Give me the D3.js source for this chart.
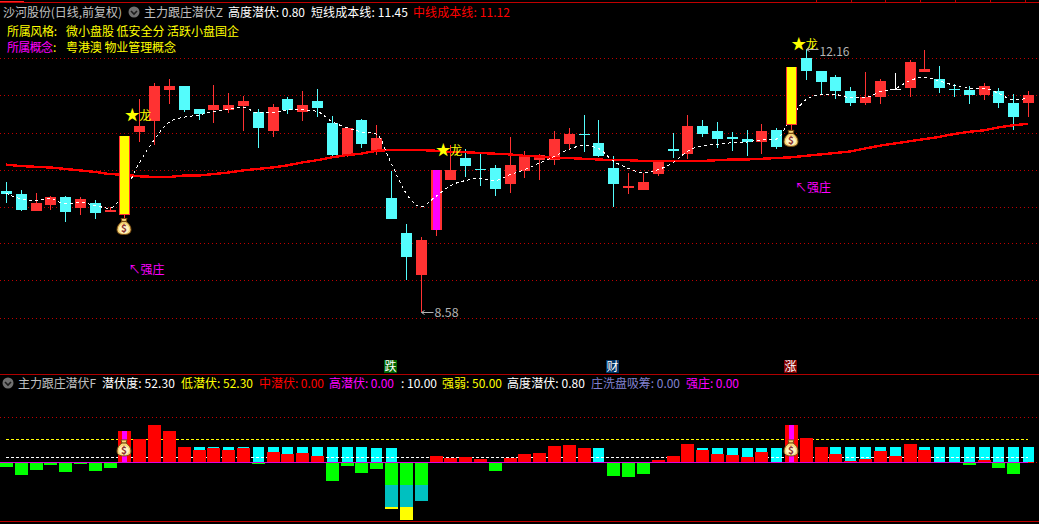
<!DOCTYPE html>
<html><head><meta charset="utf-8">
<script src="https://cdn.jsdelivr.net/npm/d3@7/dist/d3.min.js"></script>
<style>html,body{margin:0;padding:0;background:#000;overflow:hidden}svg{display:block}text{font-family:"Noto Sans CJK SC","Noto Sans",sans-serif;font-size:12px}</style>
</head><body><svg id="c" width="1039" height="524"></svg>
<script>
const opens=[10.24,10.20,9.96,10.04,10.15,10.00,10.07,9.95,9.91,11.05,11.20,11.62,11.68,11.36,11.35,11.35,11.40,11.32,11.06,11.50,11.32,11.47,11.17,10.73,11.21,10.79,10.14,9.66,9.08,9.70,10.39,10.69,10.54,10.55,10.33,10.51,10.66,10.66,10.88,11.02,10.90,10.55,10.28,10.25,10.47,10.81,10.75,11.13,11.06,10.98,10.95,10.91,11.07,11.14,12.06,11.89,11.80,11.61,11.45,11.53,11.64,11.65,11.87,11.78,11.64,11.62,11.56,11.61,11.45,11.45];
const highs=[10.36,10.25,10.21,10.17,10.17,10.15,10.11,10.02,10.99,11.50,11.72,11.78,11.68,11.36,11.69,11.58,11.54,11.36,11.43,11.53,11.61,11.64,11.27,11.10,11.23,11.14,10.51,9.78,9.61,10.53,10.87,10.81,10.75,10.59,10.98,10.79,10.75,11.06,11.10,11.28,11.21,10.72,10.48,10.48,10.66,11.03,11.28,11.21,11.18,11.05,11.07,11.16,11.10,11.94,12.19,11.89,11.83,11.67,11.87,11.78,11.86,12.04,12.18,11.95,11.71,11.68,11.72,11.65,11.57,11.61];
const lows=[10.07,9.96,9.96,9.98,9.81,9.91,9.85,9.95,9.87,10.91,10.87,11.43,11.32,11.21,11.17,11.31,11.06,10.83,10.98,11.29,11.20,11.25,10.70,10.70,10.83,10.73,9.85,9.01,8.58,9.62,10.39,10.43,10.31,10.17,10.21,10.42,10.39,10.59,10.81,10.77,10.70,10.02,10.20,10.25,10.44,10.69,10.68,10.98,10.83,10.79,10.72,10.75,10.81,11.07,11.76,11.57,11.50,11.40,11.42,11.43,11.62,11.53,11.87,11.58,11.53,11.43,11.49,11.38,11.07,11.25];
const closes=[10.20,9.98,10.07,10.15,9.95,10.13,9.93,9.98,10.99,11.13,11.68,11.68,11.35,11.29,11.42,11.42,11.47,11.10,11.39,11.35,11.42,11.38,10.73,11.10,10.88,10.96,9.85,9.33,9.56,10.53,10.53,10.58,10.53,10.26,10.59,10.70,10.73,10.95,11.02,11.01,10.72,10.33,10.31,10.36,10.64,10.79,11.13,11.02,10.95,10.95,10.91,11.06,10.84,11.94,11.89,11.73,11.61,11.45,11.53,11.75,11.64,12.01,11.91,11.65,11.62,11.56,11.68,11.45,11.26,11.56];
const midCost=[10.60,10.58,10.57,10.56,10.54,10.52,10.50,10.47,10.46,10.44,10.43,10.43,10.45,10.45,10.47,10.49,10.52,10.54,10.56,10.59,10.63,10.66,10.70,10.73,10.75,10.79,10.80,10.80,10.80,10.79,10.77,10.77,10.76,10.75,10.74,10.72,10.71,10.69,10.69,10.68,10.67,10.66,10.66,10.65,10.65,10.65,10.65,10.65,10.66,10.67,10.67,10.68,10.69,10.70,10.72,10.74,10.76,10.78,10.82,10.86,10.89,10.92,10.95,10.98,11.02,11.05,11.07,11.11,11.14,11.16];
const shortCost=[10.21,10.13,10.11,10.13,10.06,10.08,10.04,10.00,10.23,10.62,10.94,11.18,11.25,11.28,11.33,11.36,11.39,11.31,11.31,11.35,11.35,11.33,11.19,11.11,11.05,11.02,10.62,10.21,10.02,10.16,10.31,10.38,10.41,10.38,10.46,10.53,10.62,10.71,10.81,10.86,10.82,10.65,10.55,10.49,10.53,10.62,10.78,10.86,10.88,10.90,10.91,10.94,10.95,11.24,11.49,11.56,11.56,11.52,11.52,11.60,11.64,11.75,11.80,11.75,11.69,11.65,11.65,11.58,11.49,11.51];
const gridPrices=[12.06,11.55,11.04,10.53,10.02,9.52,9.01,8.50];
const boldIdx=[8,53];
const mainForceIdx=[29];
const flatIdx=[60];
const dragonIdx=[9,30,54];
const dragonPrice=[11.28,10.80,12.26];
const strongIdx=[8,53];
const strongPrice=[9.15,10.28];
const bagPrice=[9.75,10.96];
const bagLevel=32;
const badgeIdx=[26,41,53];
const badgeText=["跌","财","涨"];
const badgeFill=["#006400","#003366","#800000"];
const lowLabel="8.58",highLabel="12.16";
const lowIdx=28,highIdx=54;
const cyanLevel=[0,0,0,0,0,0,0,0,0,0,0,0,0,34,34,34,34,34,34,34,34,34,34,34,34,31.4,31.4,0,0,0,0,0,0,0,0,0,0,0,0,0,31.4,0,0,0,0,0,0,31.4,31.4,31.4,31.4,31.4,31.4,0,0,0,34,34,34,34,34,0,34,34,34,34,34,34,34,34];
const redLevel=[0,0,0,0,0,0,0,0,69,51,82,69,34,27,31.4,27,31.4,0,22.7,18.3,20.5,14,0,0,0,0,0,0,0,14,9.5,11.7,7.3,0,9.5,18,20.5,36,38,31.4,0,0,0,0,5,14,40,27,18,16,11.7,22.7,0,82,53,34,18,3,7.3,25,14,40,27,0,0,0,5,0,0,0];
const greenLevel=[-9.5,-28,-17,-6,-21,-4,-19,-12,0,0,0,0,0,0,0,0,0,-4,0,0,0,0,-41,-8,-23,-15,-50,-50,-50,0,0,0,0,-19,0,0,0,0,0,0,0,-30,-32,-25.6,0,0,0,0,0,0,0,0,0,0,0,0,0,0,0,0,0,0,0,0,0,-6,0,-12.4,-25.6,0];
const tealBottom={26:-98,27:-98,28:-85};
const yellowBottom={26:-102,27:-126.5};
const lowerLines=[50,10];
const topText=[[3,119,"沙河股份(日线,前复权)","#c0c0c0"],[144,79,"主力跟庄潜伏Z","#c0c0c0"],[228,77,"高度潜伏: 0.80","#ffffff"],[311,97,"短线成本线: 11.45","#ffffff"],[413,97,"中线成本线: 11.12","#ff0000"],
 [7,50,"所属风格:","#ffff00"],[66,173,"微小盘股 低安全分 活跃小盘国企","#ffff00"],[7,46,"所属概念","#ff00ff"],[53,5,":","#ffff00"],[66,110,"粤港澳 物业管理概念","#ffff00"]];
const topRows=[12,12,12,12,12,31,31,47,47,47];
const lowText=[[18,78,"主力跟庄潜伏F","#c0c0c0"],[102,73,"潜伏度: 52.30","#ffffff"],[181,72,"低潜伏: 52.30","#ffff00"],[259,65,"中潜伏: 0.00","#ff0000"],[329,65,"高潜伏: 0.00","#ff00ff"],[401,36,": 10.00","#ffffff"],[442,60,"强弱: 50.00","#ffff00"],[507,78,"高度潜伏: 0.80","#ffffff"],[591,89,"庄洗盘吸筹: 0.00","#8080d0"],[686,53,"强庄: 0.00","#ff00ff"]];
const topTicks=[816,851,885,920,955,990,1025];

const svg=d3.select("#c");
svg.append("rect").attr("width",1039).attr("height",524).attr("fill","#000");
const x=d3.scaleLinear().domain([0,69]).range([6,1028]);
const y=d3.scaleLinear().domain([8.58,12.19]).range([311.7,48.8]);
const yl=d3.scaleLinear().domain([0,100]).range([462.5,417]);
const px=i=>Math.round(x(i));
const RED="#ff3232",CY="#54fcfc",idx=d3.range(70);
const crisp=s=>s.attr("shape-rendering","crispEdges");

// frame
const frame=[[2,"#c00000"],[374,"#b00000"],[521,"#c00000"]];
crisp(svg.selectAll(".f").data(frame).join("line").attr("x1",0).attr("x2",1039).attr("y1",d=>d[0]+.5).attr("y2",d=>d[0]+.5).attr("stroke",d=>d[1]));
crisp(svg.selectAll(".t").data(topTicks).join("line").attr("x1",d=>d+.5).attr("x2",d=>d+.5).attr("y1",0).attr("y2",3).attr("stroke","#c00000"));
crisp(svg.append("line").attr("x1",0).attr("x2",24).attr("y1",1.5).attr("y2",1.5).attr("stroke","#ff2020"));
// grid
crisp(svg.selectAll(".g").data(gridPrices).join("line").attr("x1",0).attr("x2",1039)
 .attr("y1",d=>Math.round(y(d))+.5).attr("y2",d=>Math.round(y(d))+.5).attr("stroke","#c00000").attr("stroke-dasharray","1 3"));
crisp(svg.selectAll(".gl").data([100,0]).join("line").attr("x1",0).attr("x2",1039)
 .attr("y1",d=>Math.floor(yl(d))+.5).attr("y2",d=>Math.floor(yl(d))+.5).attr("stroke","#c00000").attr("stroke-dasharray","1 3"));

// candles
const col=i=>flatIdx.includes(i)?"#ffffff":(boldIdx.includes(i)||mainForceIdx.includes(i)||closes[i]>opens[i])?RED:CY;
const gC=svg.append("g");
crisp(gC.selectAll("line").data(idx).join("line").attr("x1",i=>px(i)+.5).attr("x2",i=>px(i)+.5)
 .attr("y1",i=>y(highs[i])).attr("y2",i=>y(lows[i])).attr("stroke",col));
const normal=idx.filter(i=>!boldIdx.includes(i));
crisp(gC.selectAll("rect").data(normal).join("rect").attr("x",i=>px(i)-5).attr("width",11)
 .attr("y",i=>Math.round(y(Math.max(opens[i],closes[i]))))
 .attr("height",i=>Math.max(1,Math.round(y(Math.min(opens[i],closes[i])))-Math.round(y(Math.max(opens[i],closes[i])))))
 .attr("fill",col));
crisp(gC.selectAll(".m").data(mainForceIdx).join("rect").attr("x",i=>px(i)-3).attr("width",7)
 .attr("y",i=>Math.round(y(closes[i]))).attr("height",i=>Math.round(y(opens[i]))-Math.round(y(closes[i]))).attr("fill","#ff00ff"));

// cost lines
const ln=a=>d3.line().x((d,i)=>x(i)).y(d=>y(d))(a);
crisp(svg.append("path").attr("d",ln(midCost)).attr("fill","none").attr("stroke","#ff0000").attr("stroke-width",2.4));
crisp(svg.append("path").attr("d",d3.line().x((d,i)=>x(i)).y(d=>y(d)).curve(d3.curveMonotoneX)(shortCost)).attr("fill","none").attr("stroke","#ffffff").attr("stroke-width",1).attr("stroke-dasharray","3 3"));

// bold yellow bars over the lines
const gB=svg.append("g");
crisp(gB.selectAll("rect.o").data(boldIdx).join("rect").attr("x",i=>px(i)-5).attr("width",11)
 .attr("y",i=>Math.round(y(closes[i]))).attr("height",i=>Math.round(y(opens[i]))-Math.round(y(closes[i]))).attr("fill",RED));
crisp(gB.selectAll("rect.i").data(boldIdx).join("rect").attr("x",i=>px(i)-4).attr("width",9)
 .attr("y",i=>Math.round(y(closes[i]))).attr("height",i=>Math.round(y(opens[i]))-Math.round(y(closes[i]))-1).attr("fill","#ffff00"));

// money bag
function bag(g,cx,cy){
 const b=g.append("g").attr("transform",`translate(${cx},${cy})`);
 b.append("path").attr("d","M-3,-8 L3,-8 L2,-5 C5,-3 7,0 7,3 C7,7 4,8 0,8 C-4,8 -7,7 -7,3 C-7,0 -5,-3 -2,-5 Z")
  .attr("fill","#f6d77a").attr("stroke","#7a4a10").attr("stroke-width",1);
 b.append("line").attr("x1",-3).attr("x2",3).attr("y1",-5).attr("y2",-5).attr("stroke","#7a4a10").attr("stroke-width",1.2);
 b.append("ellipse").attr("cx",0).attr("cy",2.5).attr("rx",5).attr("ry",4.5).attr("fill","#fff2c0");
 b.append("text").attr("x",0).attr("y",6).attr("text-anchor","middle").attr("font-weight","bold").style("font-size","10px").attr("fill","#8b3030").text("$");
}
boldIdx.forEach((i,k)=>bag(svg,px(i),y(bagPrice[k])));

// dragons
dragonIdx.forEach((i,k)=>{
 const yy=y(dragonPrice[k]);
 svg.append("text").attr("x",x(i)-7).attr("y",yy+5).attr("text-anchor","middle").style("font-size","15px").attr("fill","#ffff00").text("★");
 svg.append("text").attr("x",x(i)+6).attr("y",yy+5).attr("text-anchor","middle").attr("fill","#ffff00").text("龙");
});
// strong
strongIdx.forEach((i,k)=>{
 svg.append("text").attr("x",x(i)+4).attr("y",y(strongPrice[k])+4).attr("fill","#ff00ff").text("↖强庄");
});
// hi / lo labels
const G="#b4b4b4";
[[lowIdx,lows[lowIdx],lowLabel],[highIdx,highs[highIdx],highLabel]].forEach(d=>{
 const xx=px(d[0])+.5,yy=Math.round(y(d[1]))+.5;
 svg.append("path").attr("d",`M${xx},${yy}H${xx+12}M${xx},${yy}l3,-2M${xx},${yy}l3,2`).attr("fill","none").attr("stroke",G);
 svg.append("text").attr("x",xx+13).attr("y",yy+(d[0]===highIdx?6:4)).attr("fill",G).attr("textLength",d[2].length*6).attr("lengthAdjust","spacingAndGlyphs").text(d[2]);
});

// header text
svg.selectAll(".tt").data(topText).join("text").attr("x",d=>d[0]).attr("y",(d,i)=>topRows[i]+4.5).attr("fill",d=>d[3]).attr("textLength",d=>d[1]).attr("lengthAdjust","spacing").text(d=>d[2]);
svg.selectAll(".lt").data(lowText).join("text").attr("x",d=>d[0]).attr("y",388).attr("fill",d=>d[3]).attr("textLength",d=>d[1]).attr("lengthAdjust","spacing").text(d=>d[2]);
[[134,12],[8,383]].forEach(c=>{
 svg.append("circle").attr("cx",c[0]).attr("cy",c[1]).attr("r",5.5).attr("fill","#707070");
 svg.append("path").attr("d",`M${c[0]-3},${c[1]-1}l3,3l3,-3`).attr("fill","none").attr("stroke","#1c1c1c").attr("stroke-width",1.6);
});

// badges
badgeIdx.forEach((i,k)=>{
 crisp(svg.append("rect").attr("x",px(i)-7).attr("y",360).attr("width",13).attr("height",13).attr("fill",badgeFill[k]));
 svg.append("text").attr("x",px(i)-.5).attr("y",371).attr("text-anchor","middle").attr("fill","#ffffff").text(badgeText[k]);
});

// lower panel
const gL=svg.append("g");
crisp(gL.selectAll(".cy").data(idx.filter(i=>cyanLevel[i]>0)).join("rect").attr("x",i=>px(i)-5).attr("width",11)
 .attr("y",i=>yl(cyanLevel[i])).attr("height",i=>yl(0)-yl(cyanLevel[i])).attr("fill","#00ffff"));
lowerLines.forEach((v,k)=>{
 crisp(gL.append("path").attr("d",d3.line().x(d=>x(d)).y(()=>Math.floor(yl(v))+.5)([0,69])).attr("stroke",k?"#ffffff":"#ffff00").attr("stroke-dasharray","3 2").attr("fill","none"));
});
crisp(gL.selectAll(".rd").data(idx.filter(i=>redLevel[i]>0)).join("rect").attr("x",i=>px(i)-6).attr("width",13)
 .attr("y",i=>yl(redLevel[i])).attr("height",i=>yl(0)-yl(redLevel[i])).attr("fill","#ff0000"));
crisp(gL.selectAll(".mg").data(boldIdx).join("rect").attr("x",i=>px(i)-2).attr("width",5)
 .attr("y",i=>yl(redLevel[i])).attr("height",i=>yl(0)-yl(redLevel[i])).attr("fill","#ff00ff"));
crisp(gL.selectAll(".gr").data(idx.filter(i=>greenLevel[i]<0)).join("rect").attr("x",i=>px(i)-6).attr("width",13)
 .attr("y",yl(0)).attr("height",i=>yl(greenLevel[i])-yl(0)).attr("fill","#00ff00"));
Object.keys(tealBottom).forEach(k=>{const i=+k;
 crisp(gL.append("rect").attr("x",px(i)-6).attr("width",13).attr("y",yl(greenLevel[i])).attr("height",yl(tealBottom[i])-yl(greenLevel[i])).attr("fill","#00c0c0"));
 if(yellowBottom[i]) crisp(gL.append("rect").attr("x",px(i)-6).attr("width",13).attr("y",yl(tealBottom[i])).attr("height",yl(yellowBottom[i])-yl(tealBottom[i])).attr("fill","#ffff00"));
});
crisp(svg.append("line").attr("x1",0).attr("x2",x(69)).attr("y1",462.5).attr("y2",462.5).attr("stroke","#e000e0"));
crisp(svg.append("line").attr("x1",x(69)).attr("x2",x(69)+6).attr("y1",462.5).attr("y2",462.5).attr("stroke","#ff0000"));
boldIdx.forEach(i=>bag(svg,px(i),yl(bagLevel)));
</script></body></html>
